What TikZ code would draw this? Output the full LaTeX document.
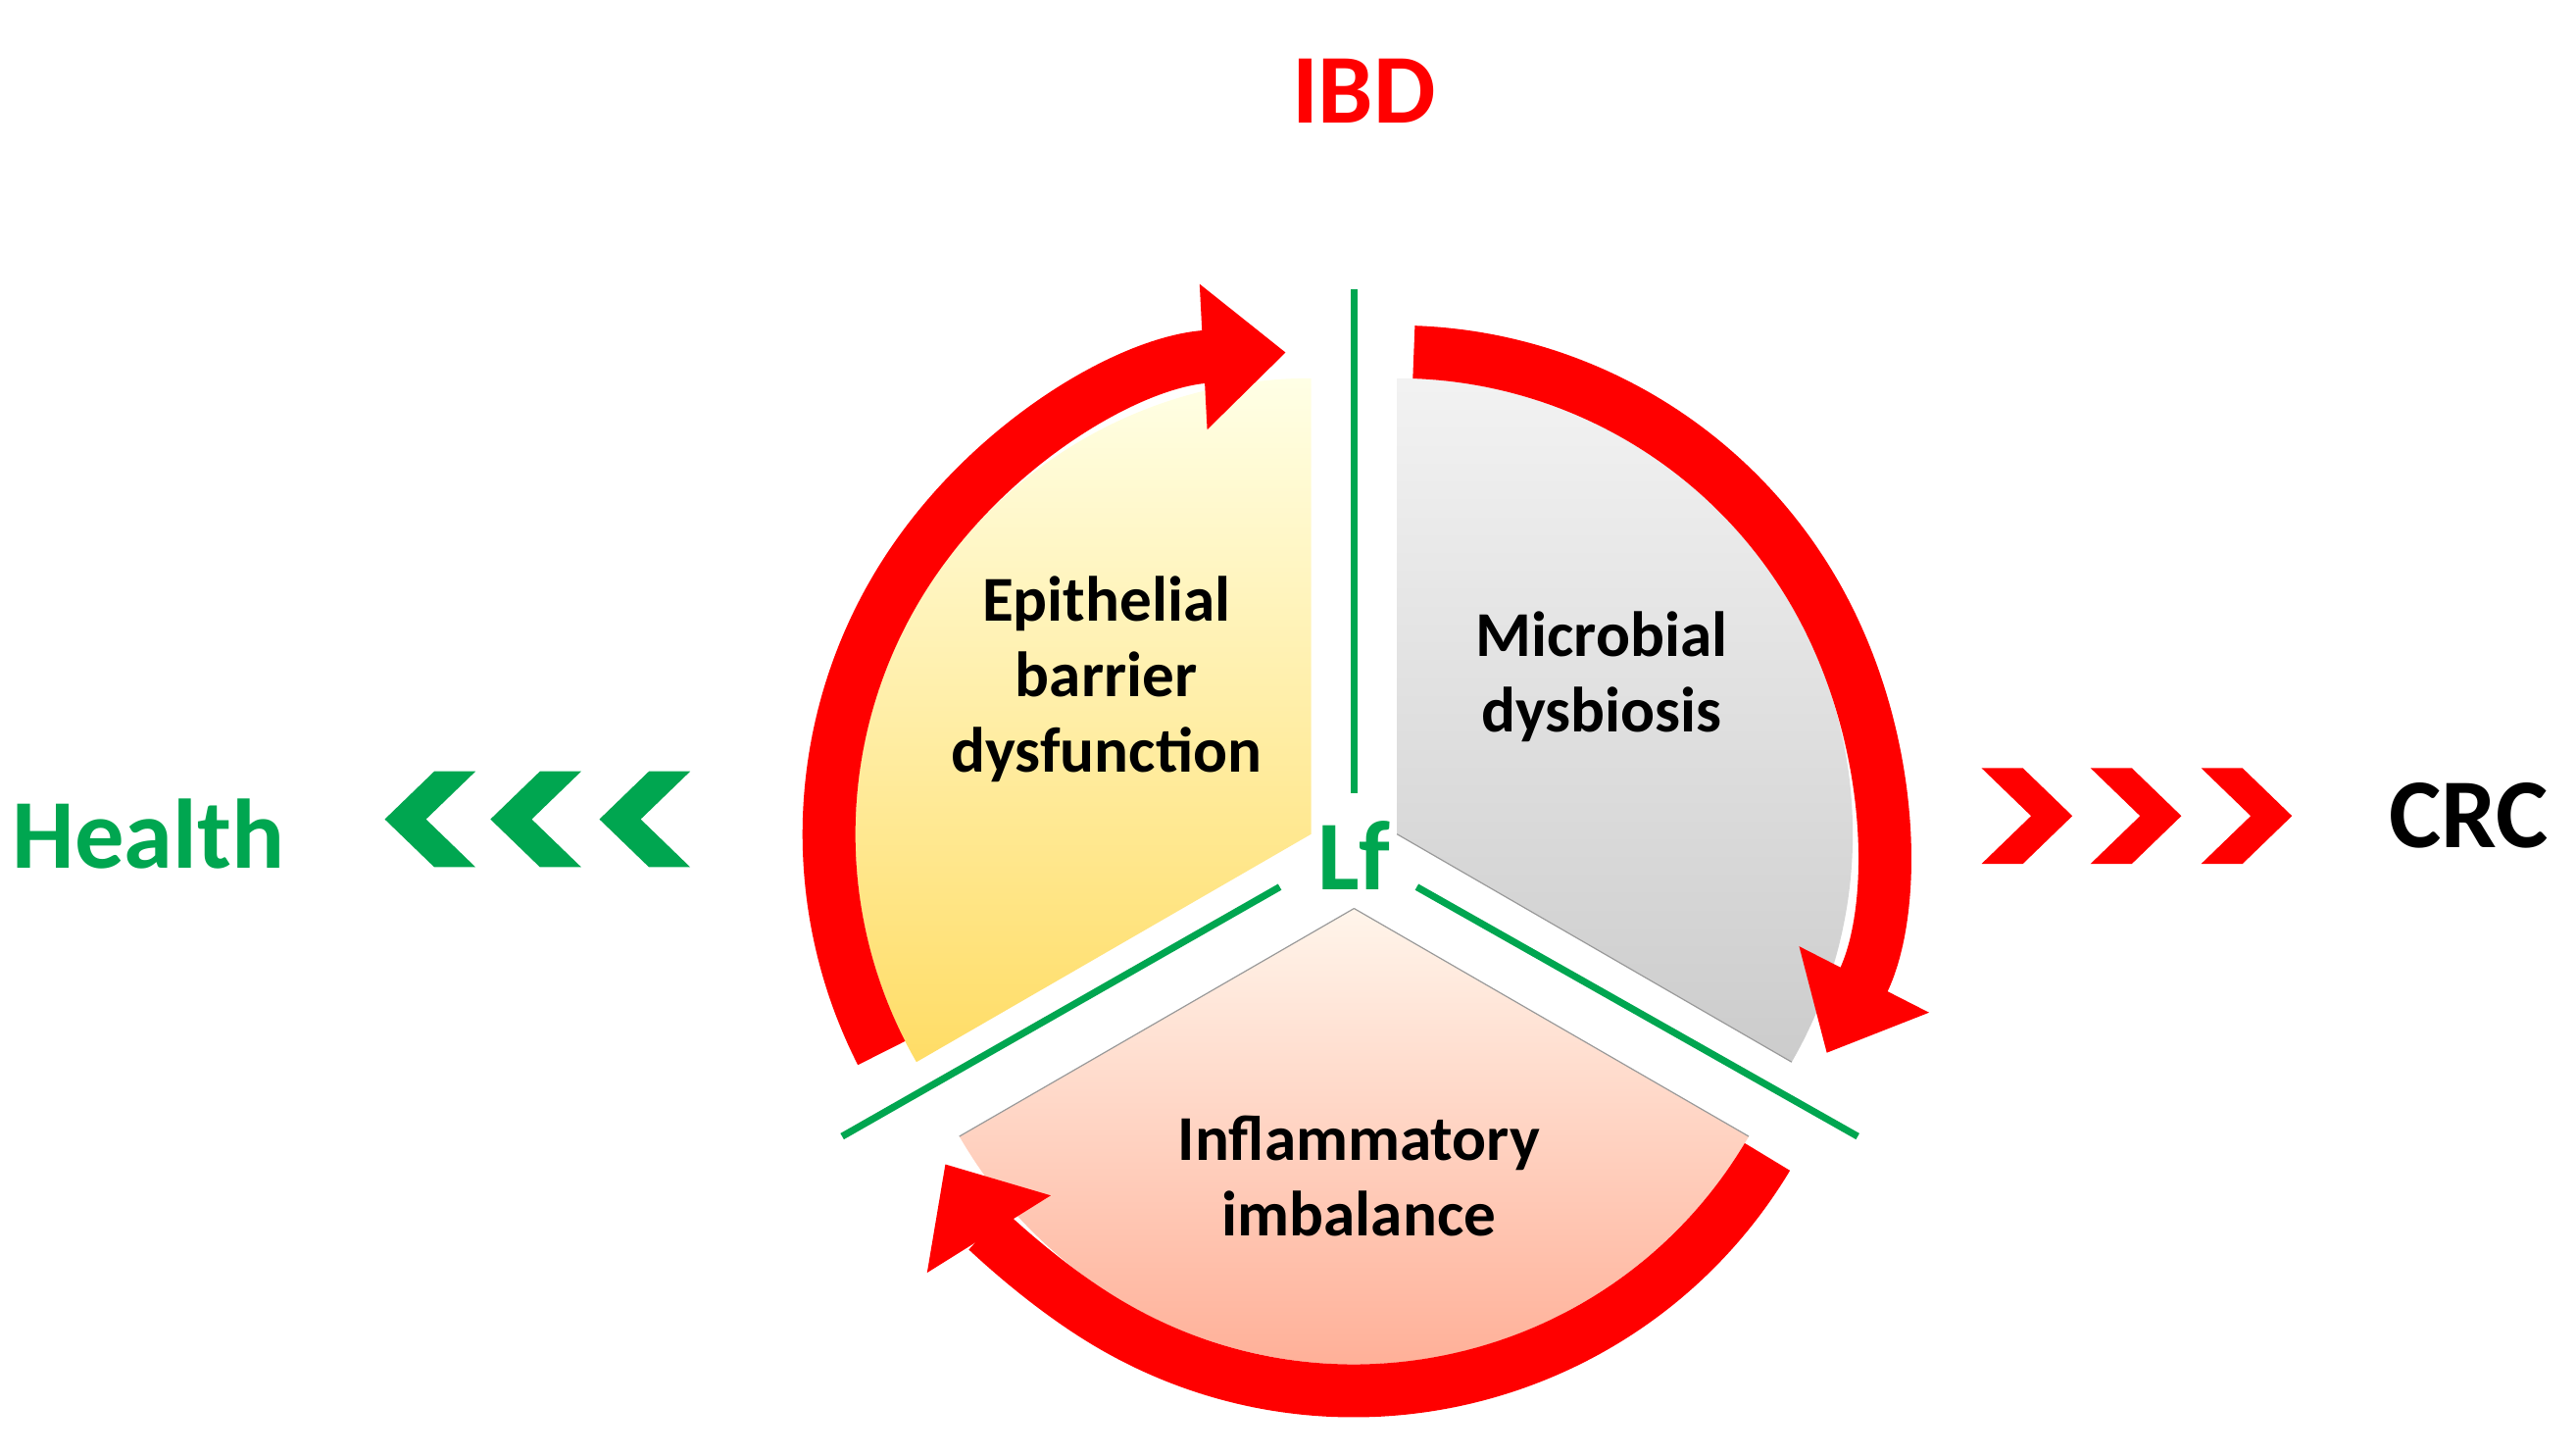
\documentclass[tikz,border=0pt]{standalone}
\usepackage{fontspec}
\setmainfont{Carlito}
\usetikzlibrary{arrows.meta}
\definecolor{lfgreen}{RGB}{0,166,80}
\definecolor{lfred}{RGB}{255,0,0}
\begin{document}
\begin{tikzpicture}[x=0.01cm,y=0.01cm,
  ring/.style={draw=lfred,line width=0.32cm,-{Triangle[width=0.85cm,length=0.5cm]}},
  stem/.style={draw=lfgreen,line width=1.2pt},
  label/.style={font=\bfseries\fontsize{11}{13}\selectfont,align=center},
  chev/.style={fill=#1,draw=none}]
\useasboundingbox (0,0) rectangle (1560,881);
\coordinate (L) at (794,376);
\coordinate (R) at (846,376);
\coordinate (B) at (820,331);
% wedges
\shade [top color=yellow!10,bottom color=yellow!55!orange!60] (L) -- ++(90:276) arc [start angle=90,end angle=210,radius=276] -- cycle;
\shade [top color=black!5,bottom color=black!20] (R) -- ++(90:276) arc [start angle=90,end angle=-30,radius=276] -- cycle;
\shade [top color=orange!8,bottom color=orange!45!red!45] (B) -- ++(210:276) arc [start angle=210,end angle=330,radius=276] -- cycle;
\draw [black!40,very thin] (R) -- ++(-30:276);
\draw [black!40,very thin] (B) -- ++(210:276) (B) -- ++(-30:276);
% red cycle
\draw [ring] (L) ++(207:292) arc [start angle=207,end angle=93,radius=292];
\draw [ring] (R) ++(88:292) arc [start angle=88,end angle=-27,radius=292];
\draw [ring] (B) ++(-31:292) arc [start angle=-31,end angle=-148,radius=292];
% green stems
\coordinate (s1) at (820,401);
\coordinate (s2) at (775,344);
\coordinate (s3) at (858,344);
\draw [stem] (s1) -- (820,706);
\draw [stem] (s2) -- (510,193);
\draw [stem] (s3) -- (1125,193);
% chevrons
\foreach \x in {1200,1266,1333}
  \fill [chev=lfred] (\x,416) -- ++(25,0) -- ++(30,-29) -- ++(-30,-29) -- ++(-25,0) -- ++(30,29) -- cycle;
\foreach \x in {418,352,288}
  \fill [chev=lfgreen] (\x,414) -- ++(-25,0) -- ++(-30,-29) -- ++(30,-29) -- ++(25,0) -- ++(-30,29) -- cycle;
% texts
\node [label] (epi) at (670,470) {Epithelial\\barrier\\dysfunction};
\node [label] (mic) at (970,471) {Microbial\\dysbiosis};
\node [label] (inf) at (823,169) {Inflammatory\\imbalance};
\node [font=\bfseries\fontsize{17}{19}\selectfont,text=lfgreen] (lf) at (820,363) {Lf};
\node [font=\bfseries\fontsize{17}{19}\selectfont,text=lfred] (ibd) at (826,826) {IBD};
\node [font=\bfseries\fontsize{17}{19}\selectfont,text=lfgreen] (health) at (90,376) {Health};
\node [font=\bfseries\fontsize{17}{19}\selectfont] (crc) at (1495,387) {CRC};
\end{tikzpicture}
\end{document}
